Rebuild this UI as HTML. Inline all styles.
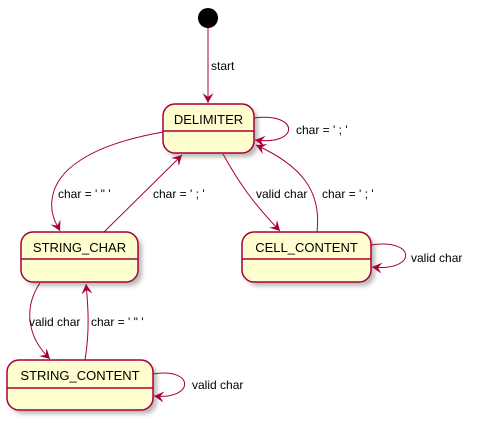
<!DOCTYPE html>
<html><head><style>body{margin:0;background:#fff}svg{display:block}</style></head><body>
<svg width="478" height="423" xmlns="http://www.w3.org/2000/svg" font-family="Liberation Sans, sans-serif">
<defs>
<filter id="sh" x="-20%" y="-20%" width="150%" height="160%"><feGaussianBlur stdDeviation="2"/></filter>
<marker id="a" markerWidth="12" markerHeight="12" refX="10" refY="5.5" orient="auto" markerUnits="userSpaceOnUse"><path d="M0,0 L10,5.5 L0,11 L4,5.5 Z" fill="#A80036"/></marker>
</defs>
<g fill="#777" opacity="0.5" filter="url(#sh)">
<rect x="167" y="108" width="91" height="49" rx="12"/>
<rect x="25" y="236" width="117" height="50" rx="12"/>
<rect x="246" y="236" width="129" height="50" rx="12"/>
<rect x="11" y="364" width="146" height="50" rx="12"/>
</g>
<circle cx="208" cy="18" r="10" fill="#000"/>
<g fill="#FEFECE" stroke="#A80036" stroke-width="1.5">
<rect x="163" y="104" width="91" height="49" rx="12"/>
<rect x="21" y="232" width="117" height="50" rx="12"/>
<rect x="242" y="232" width="129" height="50" rx="12"/>
<rect x="7" y="360" width="146" height="50" rx="12"/>
</g>
<g stroke="#A80036" stroke-width="1.5">
<line x1="163" y1="131" x2="254" y2="131"/>
<line x1="21" y1="259" x2="138" y2="259"/>
<line x1="242" y1="259" x2="371" y2="259"/>
<line x1="7" y1="388" x2="153" y2="388"/>
</g>
<g fill="none" stroke="#A80036" stroke-width="1" marker-end="url(#a)">
<line x1="208" y1="28" x2="208" y2="103"/>
<path d="M254,118 C300,112 300,146 255,140"/>
<path d="M163,132 C90,145 55,170 52,200 C50,215 57,225 60,231"/>
<path d="M104,232 L182,155"/>
<path d="M223,154 C240,185 255,205 280,231"/>
<path d="M317,232 C322,190 300,165 256,145"/>
<path d="M371,245 C417,238 417,272 372,267"/>
<path d="M40,283 C25,305 25,335 50,359"/>
<path d="M85,360 C90,330 88,305 86,284"/>
<path d="M153,374 C195,367 195,400 154,396"/>
</g>
<g font-size="13" fill="#000" text-anchor="middle">
<text x="208.5" y="124">DELIMITER</text>
<text x="79.5" y="252">STRING_CHAR</text>
<text x="306.5" y="252">CELL_CONTENT</text>
<text x="80" y="380">STRING_CONTENT</text>
</g>
<g font-size="12" fill="#000">
<text x="211" y="70">start</text>
<text x="296" y="134">char = ' ; '</text>
<text x="58" y="198">char = ' " '</text>
<text x="153" y="198">char = ' ; '</text>
<text x="256" y="198">valid char</text>
<text x="322" y="198">char = ' ; '</text>
<text x="411" y="262">valid char</text>
<text x="29" y="326">valid char</text>
<text x="91" y="326">char = ' " '</text>
<text x="192" y="389">valid char</text>
</g>
</svg>
</body></html>
